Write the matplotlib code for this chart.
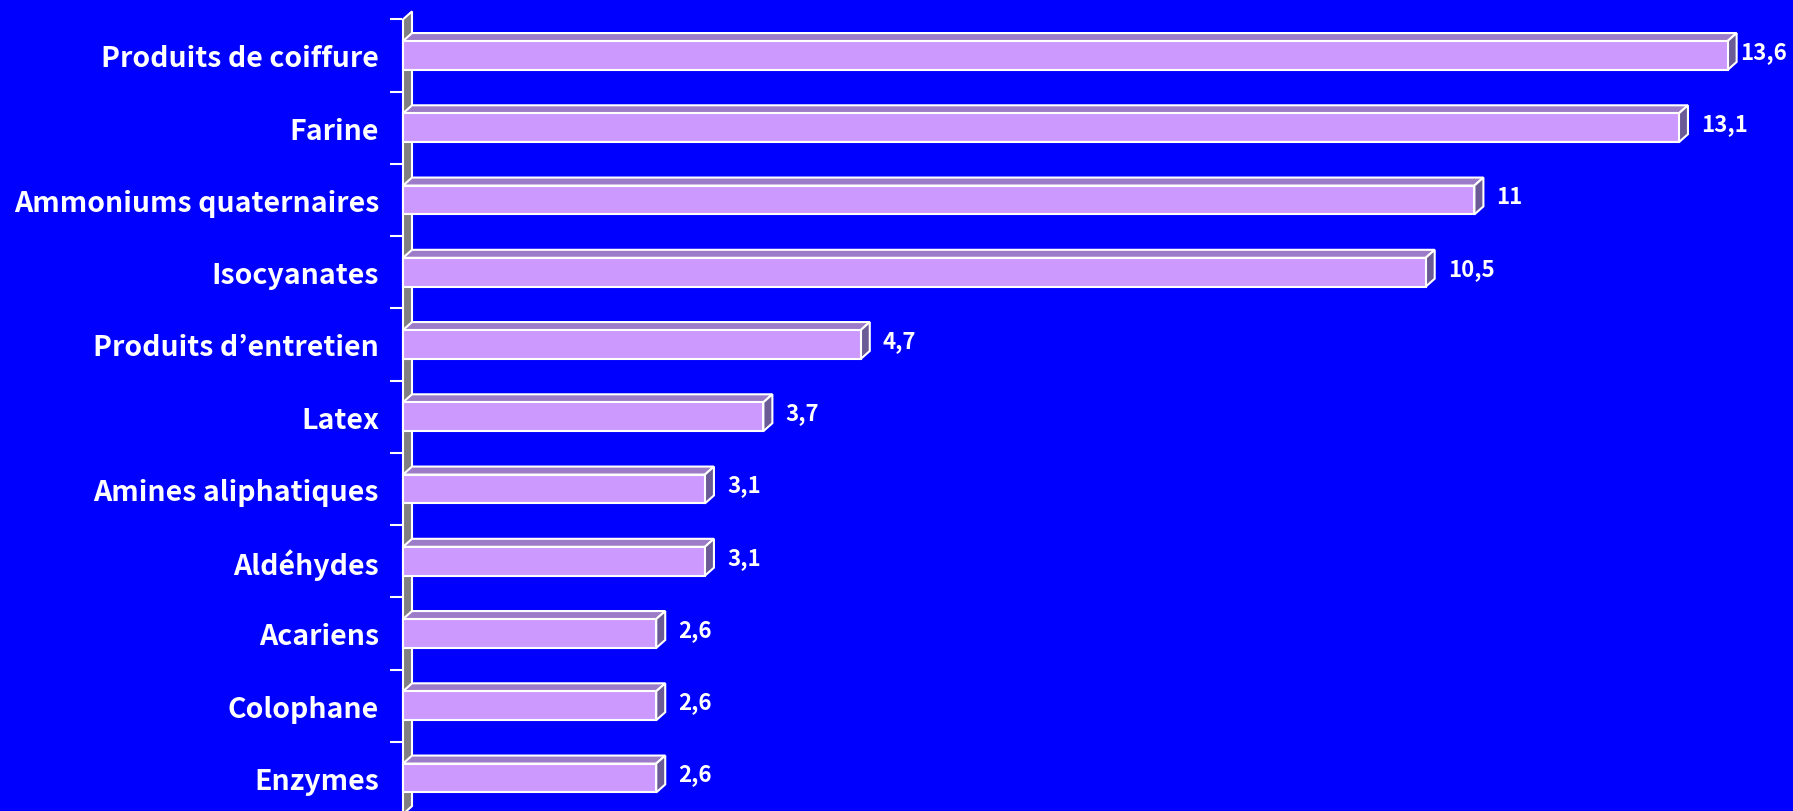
import matplotlib.pyplot as plt
from matplotlib.patches import Polygon

categories = [
    "Produits de coiffure",
    "Farine",
    "Ammoniums quaternaires",
    "Isocyanates",
    "Produits d\u2019entretien",
    "Latex",
    "Amines aliphatiques",
    "Ald\u00e9hydes",
    "Acariens",
    "Colophane",
    "Enzymes",
]
values = [13.6, 13.1, 11, 10.5, 4.7, 3.7, 3.1, 3.1, 2.6, 2.6, 2.6]
value_labels = ["13,6", "13,1", "11", "10,5", "4,7", "3,7", "3,1", "3,1", "2,6", "2,6", "2,6"]

W, H = 1793, 812
BLUE = "#0000FF"
FRONT = "#CC99FF"
TOP = "#9C7CC8"
SIDE = "#6A5A96"
WALL = "#808080"

plt.rcParams["font.family"] = ["Noto Sans CJK JP", "DejaVu Sans"]

fig = plt.figure(figsize=(W / 100, H / 100), dpi=100, facecolor=BLUE)
ax = fig.add_axes([0, 0, 1, 1])
ax.set_facecolor(BLUE)
ax.set_axis_off()

# pixel geometry -> data units
x0_px, px_per_unit = 403, 97.4
y0_px, px_per_cat = 56.5, 72.25
ax.set_xlim(-x0_px / px_per_unit, (W - x0_px) / px_per_unit)
ax.set_ylim((H - y0_px) / px_per_cat, -y0_px / px_per_cat)
dx = 9 / px_per_unit
dy = 8 / px_per_cat
bh = 0.4
n = len(categories)

# side wall
wall = Polygon([(0, -0.5), (dx, -0.5 - dy), (dx, n - 0.5 - dy), (0, n - 0.5)],
               closed=True, facecolor=WALL, edgecolor="white", lw=1.5, zorder=1)
ax.add_patch(wall)

# tick marks on category boundaries
for k in range(n + 1):
    ax.plot([-13 / px_per_unit, -1 / px_per_unit], [k - 0.5, k - 0.5],
            color="white", lw=1.5, zorder=1, solid_capstyle="butt")

for i, (v, lab) in enumerate(zip(values, value_labels)):
    yt, yb = i - bh / 2, i + bh / 2
    top = Polygon([(0, yt), (dx, yt - dy), (v + dx, yt - dy), (v, yt)],
                  closed=True, facecolor=TOP, edgecolor="white", lw=1.5, zorder=2)
    side = Polygon([(v, yt), (v + dx, yt - dy), (v + dx, yb - dy), (v, yb)],
                   closed=True, facecolor=SIDE, edgecolor="white", lw=1.5, zorder=2)
    ax.add_patch(top)
    ax.add_patch(side)
    ax.barh(i, v, height=bh, left=0, color=FRONT, edgecolor="white", lw=1.5, zorder=3)

    ax.text(-24 / px_per_unit, i + 0.04, categories[i], ha="right", va="center",
            color="white", fontsize=20.5, fontweight="bold")

fig.canvas.draw()
renderer = fig.canvas.get_renderer()
for i, (v, lab) in enumerate(zip(values, value_labels)):
    t = ax.text(v + dx + 13 / px_per_unit, i - dy / 2, lab, ha="left", va="center",
                color="white", fontsize=16, fontweight="bold")
    bb = t.get_window_extent(renderer)
    if bb.x1 > W - 6:
        shift = (bb.x1 - (W - 6)) / px_per_unit
        t.set_x(v + dx + 13 / px_per_unit - shift)

fig.savefig("out.png", dpi=100, facecolor=BLUE)
